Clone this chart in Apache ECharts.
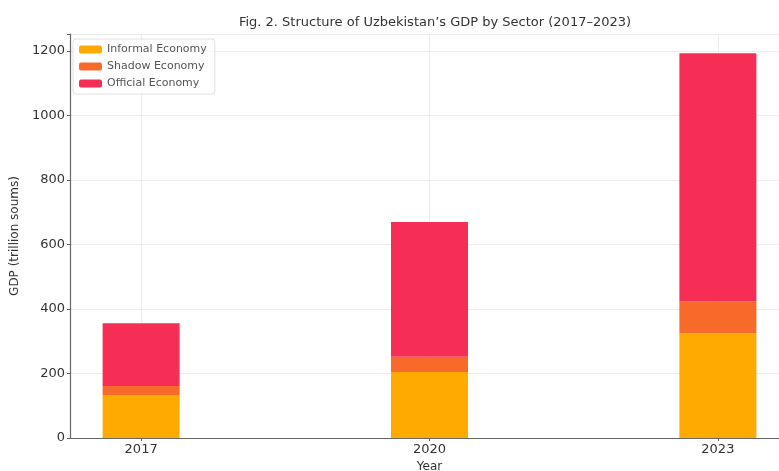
<!DOCTYPE html>
<html>
<head>
<meta charset="utf-8">
<script src="https://cdn.jsdelivr.net/npm/echarts@6/dist/echarts.min.js"></script>
<style>
  html, body { margin: 0; padding: 0; background: #fff; }
  #chart { width: 779px; height: 471px; }
</style>
</head>
<body>
<div id="chart"></div>
<script>
var years = [2017, 2020, 2023];
var informal = [133, 205, 325];
var shadow = [28, 47, 98];
var official = [195, 418, 770];
var yTicks = [0, 200, 400, 600, 800, 1000, 1200];

// [value, year] so the value is the stacked dimension
function pairs(vals) {
    return years.map(function (y, i) { return [vals[i], y]; });
}

var font = 'DejaVu Sans';
var myChart = echarts.init(document.getElementById('chart'));

var option = {
    backgroundColor: '#fff',
    animation: false,
    textStyle: { fontFamily: font },
    title: {
        text: 'Fig. 2. Structure of Uzbekistan\u2019s GDP by Sector (2017\u20132023)',
        left: 430, top: 11, textAlign: 'center',
        textStyle: { fontFamily: font, fontSize: 13, fontWeight: 'normal', color: '#333' }
    },
    legend: {
        orient: 'vertical',
        left: 73, top: 39,
        itemWidth: 23, itemHeight: 8, itemGap: 6,
        padding: [5, 8, 5, 6],
        backgroundColor: 'rgba(255,255,255,0.85)',
        borderColor: '#e2e2e2', borderWidth: 1, borderRadius: 3,
        textStyle: { fontFamily: font, fontSize: 11, color: '#555' },
        data: ['Informal Economy', 'Shadow Economy', 'Official Economy']
    },
    grid: { left: 70, top: 34, width: 719, bottom: 33, containLabel: false, outerBoundsMode: 'none' },
    xAxis: {
        type: 'value',
        min: 2016.26, max: 2023.74,
        name: 'Year', nameLocation: 'middle', nameGap: 21,
        nameTextStyle: { fontFamily: font, fontSize: 12, color: '#333' },
        axisLine: { show: true, lineStyle: { color: '#666', width: 1.2 } },
        axisTick: { show: true, customValues: years, length: 3, lineStyle: { color: '#666' } },
        axisLabel: { customValues: years, fontFamily: font, fontSize: 13, color: '#333', margin: 5,
                     formatter: function (v) { return String(v); } },
        splitLine: { show: true, lineStyle: { color: '#ececec', width: 1 } }
    },
    yAxis: {
        type: 'value',
        min: 0, max: 1253, interval: 200,
        name: 'GDP (trillion soums)', nameLocation: 'middle', nameGap: 44,
        nameTextStyle: { fontFamily: font, fontSize: 12, color: '#333' },
        axisLine: { show: true, lineStyle: { color: '#666', width: 1.2 } },
        axisTick: { show: true, length: 3, lineStyle: { color: '#666' } },
        axisLabel: { fontFamily: font, fontSize: 13, color: '#333', margin: 5,
                     formatter: function (v) { return yTicks.indexOf(v) >= 0 ? String(v) : ''; } },
        splitLine: { show: true, lineStyle: { color: '#ececec', width: 1 } }
    },
    series: [
        { name: 'Informal Economy', type: 'bar', stack: 'gdp', barWidth: 77,
          encode: { x: 1, y: 0 },
          itemStyle: { color: '#FFAA00' }, data: pairs(informal) },
        { name: 'Shadow Economy', type: 'bar', stack: 'gdp', barWidth: 77,
          encode: { x: 1, y: 0 },
          itemStyle: { color: '#F86A2A' }, data: pairs(shadow) },
        { name: 'Official Economy', type: 'bar', stack: 'gdp', barWidth: 77,
          encode: { x: 1, y: 0 },
          itemStyle: { color: '#F62E55' }, data: pairs(official) }
    ]
};
myChart.setOption(option);
</script>
</body>
</html>
